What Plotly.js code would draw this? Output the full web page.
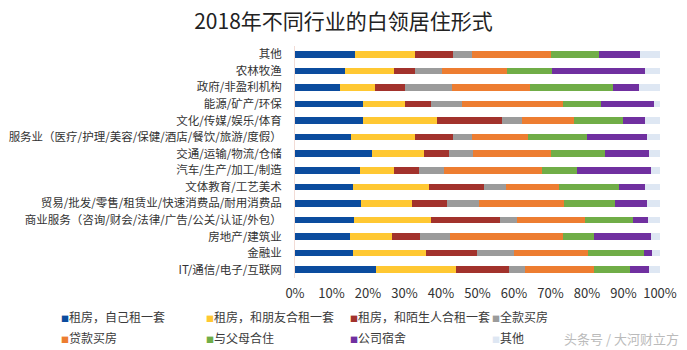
<!DOCTYPE html>
<html>
<head>
<meta charset="utf-8">
<script src="https://cdn.plot.ly/plotly-3.0.1.min.js"></script>
<style>html,body{margin:0;padding:0;background:#fff;}#chart{width:687px;height:350px;}</style>
</head>
<body>
<div id="chart"></div>
<script>
const categories = ["其他","农林牧渔","政府/非盈利机构","能源/矿产/环保","文化/传媒/娱乐/体育",
  "服务业（医疗/护理/美容/保健/酒店/餐饮/旅游/度假）","交通/运输/物流/仓储","汽车/生产/加工/制造",
  "文体教育/工艺美术","贸易/批发/零售/租赁业/快速消费品/耐用消费品","商业服务（咨询/财会/法律/广告/公关/认证/外包）",
  "房地产/建筑业","金融业","IT/通信/电子/互联网"];

const seriesNames = ["租房，自己租一套","租房，和朋友合租一套","租房，和陌生人合租一套","全款买房","贷款买房","与父母合住","公司宿舍","其他"];
const seriesColors = ["#0B4C9E","#FFC832","#A2322C","#9B9B9B","#ED7D31","#70AD47","#7030A0","#DEE7F3"];

const rentAlone   = [16.3,13.8,12.2,18.7,18.7,15.3,21.2,17.7,16.0,18.0,16.2,15.1,15.8,22.2];
const rentFriends = [16.7,13.2, 9.8,11.5,20.1,17.5,14.2, 9.3,20.6,14.0,21.1,11.5,20.1,22.0];
const rentStrange = [10.3, 5.8, 8.1, 7.0,18.0,10.4, 6.9, 7.0,15.1, 9.6,18.8, 7.7,14.0,14.3];
const buyFull     = [ 5.3, 7.4,13.0, 8.6, 5.5, 5.2, 6.4, 6.7, 6.2, 8.9, 4.6, 8.2,10.1, 4.5];
const buyLoan     = [21.5,18.0,21.2,27.5,14.1,15.5,21.3,27.0,14.4,23.3,18.8,30.9,20.3,19.0];
const withParents = [13.1,12.3,22.7,10.5,13.4,16.2,14.8, 9.6,16.4,13.9,13.1, 8.5,15.2, 9.7];
const dorm        = [11.3,25.4, 7.3,14.6, 6.1,16.4,12.2,20.1, 7.2, 8.7, 4.1,15.6, 2.4, 5.3];
const other       = [ 5.5, 4.1, 5.7, 1.6, 4.1, 3.5, 3.0, 2.6, 4.1, 3.6, 3.3, 2.5, 2.1, 3.0];

const seriesValues = [rentAlone,rentFriends,rentStrange,buyFull,buyLoan,withParents,dorm,other];
const xTickVals = [0,10,20,30,40,50,60,70,80,90,100];
const xTickText = ["0%","10%","20%","30%","40%","50%","60%","70%","80%","90%","100%"];

const FONT = "'Noto Sans CJK SC', 'Noto Sans', sans-serif";

const traces = seriesNames.map((name,i)=>({
  type:'bar', orientation:'h', name:name,
  y:categories, x:seriesValues[i],
  marker:{color:seriesColors[i], line:{width:0}},
  hoverinfo:'skip'
}));

// legend as annotations (two rows of four)
const legX = [59,204,348,490];
const legY = [316,337];
const PL = 295, PW = 365, PB = 278, PH = 232;
const annotations = seriesNames.map((name,i)=>({
  xref:'paper', yref:'paper',
  x:(legX[i%4]-PL)/PW, y:(PB-legY[Math.floor(i/4)])/PH,
  xanchor:'left', yanchor:'middle', showarrow:false,
  text:'<span style="color:'+seriesColors[i]+';font-size:8px">■</span>'+name,
  font:{family:FONT,size:12,color:'#3A3A3A'}
}));
annotations.push({
  xref:'paper', yref:'paper', x:(562-PL)/PW, y:(PB-338)/PH,
  xanchor:'left', yanchor:'middle', showarrow:false,
  text:'头条号 / 大河财立方', font:{family:FONT,size:13,color:'#BBBBBB'}
});

const layout = {
  width:687, height:350,
  margin:{l:PL, r:687-PL-PW, t:46, b:350-PB},
  paper_bgcolor:'#ffffff', plot_bgcolor:'#ffffff',
  barmode:'stack', bargap:0.6,
  showlegend:false,
  title:{text:'2018年不同行业的白领居住形式', x:0.5, xanchor:'center', y:0.937, yanchor:'middle',
         font:{family:FONT,size:21,color:'#222222'}},
  xaxis:{range:[0,100], tickvals:xTickVals, ticktext:xTickText, showgrid:false, zeroline:false,
         showline:false, ticks:'', ticklabelstandoff:6, tickfont:{family:FONT,size:13,color:'#333333'},
         fixedrange:true},
  yaxis:{autorange:'reversed', showgrid:false, zeroline:false, showline:true, linecolor:'#F2DCD6', linewidth:1,
         ticks:'', ticklabelstandoff:10, tickfont:{family:FONT,size:11.5,color:'#333333'}, fixedrange:true},
  annotations:annotations
};

Plotly.newPlot('chart', traces, layout, {displayModeBar:false, staticPlot:true});
</script>
</body>
</html>
